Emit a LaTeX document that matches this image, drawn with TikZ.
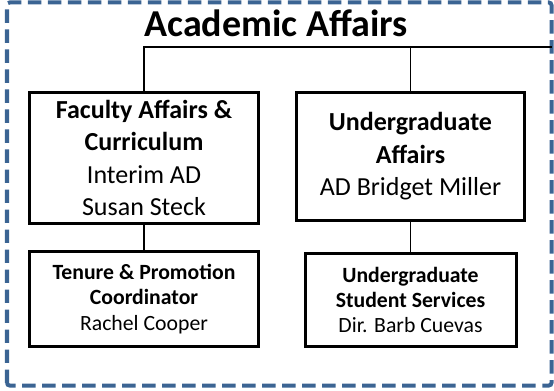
\documentclass[tikz,border=0pt]{standalone}
\usepackage{fontspec}
\setmainfont{Carlito}
\usetikzlibrary{positioning}
\definecolor{frameblue}{HTML}{3B6493}

\tikzset{
    unitbox/.style={draw, line width=2.25pt, align=center, inner sep=0pt, font=\fontsize{19.5}{24.3}\selectfont},
    subbox/.style={draw, line width=2.25pt, align=center, inner sep=0pt, font=\fontsize{16.3}{18.9}\selectfont},
    link/.style={line width=0.9pt}
}

\begin{document}
\begin{tikzpicture}[x=7.5pt, y=7.5pt]
    \useasboundingbox (0,0) rectangle (55.4,39);
    \draw[frameblue, line width=3pt, dash pattern=on 10pt off 5pt, rounded corners=2pt] (0.7,0.45) rectangle (55.15,38.75);

    \node[anchor=base, font=\fontsize{28.5}{32}\selectfont\bfseries] (acad) at (27.6,35.3) {Academic Affairs};
    \coordinate (barY) at (0,34.3);
    \coordinate (barR) at (55.15,34.3);

    \node[unitbox, minimum width=171.75pt, minimum height=98.25pt] (fac) at (14.4,23.2)
        {\textbf{Faculty Affairs \&}\\ \textbf{Curriculum}\\ Interim AD\\ Susan Steck};
    \node[unitbox, minimum width=171pt, minimum height=96pt] (ugrad) at (41.05,23.35)
        {\textbf{Undergraduate}\\ \textbf{Affairs}\\ AD Bridget Miller};

    \node[subbox, minimum width=171.75pt, minimum height=71.25pt] (tenure) at (14.4,9.1)
        {\textbf{Tenure \& Promotion}\\ \textbf{Coordinator}\\ Rachel Cooper};
    \node[subbox, minimum width=158.25pt, minimum height=69.75pt] (ugss) at (41.05,9.0)
        {\textbf{Undergraduate}\\ \textbf{Student Services}\\ Dir. Barb Cuevas};

    % lines
    \draw[link] (fac.north) -- (fac.north |- barY) -- (barR);
    \draw[link] (ugrad.north) -- (ugrad.north |- barY);
    \draw[link] (fac.south) -- (tenure.north);
    \draw[link] (ugrad.south) -- (ugss.north);
\end{tikzpicture}
\end{document}
